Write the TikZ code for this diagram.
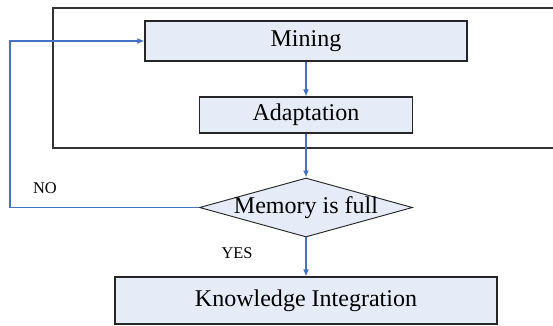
\documentclass[tikz,border=0pt]{standalone}
\usepackage{fontspec}
\setmainfont{Liberation Serif}
\usetikzlibrary{arrows.meta,shapes.geometric}

\definecolor{boxfill}{RGB}{230,236,247}
\definecolor{flowblue}{RGB}{68,114,196}

\tikzset{
  stepbox/.style={draw=black!85, line width=1pt, fill=boxfill, inner sep=0pt,
    font=\fontsize{20.5}{23}\selectfont},
  testbox/.style={diamond, draw=black!85, line width=0.8pt, fill=boxfill, inner sep=-1.5pt,
    aspect=3.6, font=\fontsize{20.5}{23}\selectfont},
  flow/.style={draw=flowblue, line width=1pt, -{Latex[length=6pt,width=5pt]}},
  answer/.style={font=\fontsize{14}{16}\selectfont}
}

\begin{document}
\begin{tikzpicture}[x=0.03cm, y=-0.03cm]
    \useasboundingbox (0,0) rectangle (553,325);

    % frame round the mining loop
    \draw[line width=1.1pt, draw=black!80] (53,8) rectangle (565,148);

    % steps
    \node[stepbox, minimum width=322*0.03cm, minimum height=40*0.03cm] (mining) at (306,41) {Mining};
    \node[stepbox, minimum width=213*0.03cm, minimum height=36*0.03cm] (adapt) at (306,115) {Adaptation};
    \node[testbox, minimum width=213*0.03cm, minimum height=59*0.03cm] (memfull) at (306,207.5) {Memory is full};
    \node[stepbox, minimum width=382*0.03cm, minimum height=47*0.03cm] (integr) at (306,300.5) {Knowledge Integration};

    % connectors
    \draw[flow] (mining) -- (adapt);
    \draw[flow] (adapt) -- (memfull);
    \draw[flow] (memfull) -- (integr);
    \draw[flow] (memfull.west) -- (10,207.5) -- (10,41) -- (mining.west);

    % answers
    \node[answer] at (45,188) {NO};
    \node[answer] at (237,253) {YES};
\end{tikzpicture}
\end{document}
